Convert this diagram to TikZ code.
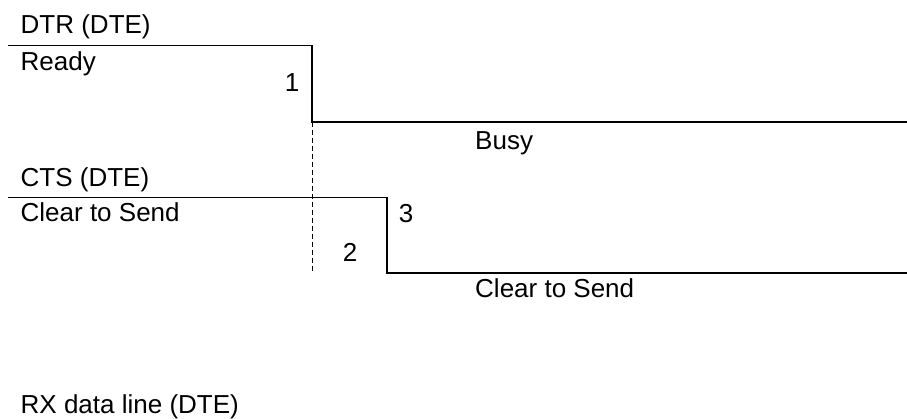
\documentclass[tikz,border=0pt]{standalone}
\usepackage{fontspec}
\setmainfont{Liberation Sans}
\begin{document}
\begin{tikzpicture}[x=1pt,y=-1pt,
  lbl/.style={anchor=base west,inner sep=0pt,font=\fontsize{26}{31}\selectfont},
  num/.style={anchor=base,inner sep=0pt,font=\fontsize{26}{31}\selectfont},
  sig/.style={line width=1.5pt,line join=miter},
  guide/.style={line width=1pt,dash pattern=on 5pt off 3pt}]
\useasboundingbox (0,0) rectangle (907,419);
% DTR
\node[lbl] (dtr) at (20.5,34) {DTR (DTE)};
\node[lbl] (ready) at (20.5,71) {Ready};
\node[num] (n1) at (292,92) {1};
\node[lbl] (busy) at (475,150) {Busy};
\coordinate (d0) at (8,45.5);
\coordinate (d1) at (312,45.5);
\coordinate (d2) at (312,122);
\coordinate (d3) at (907,122);
\draw[sig] (d0) -- (d1) -- (d2) -- (d3);
% guide
\coordinate (g1) at (312,273);
\draw[guide] (d2) -- (g1);
% CTS
\node[lbl] (cts) at (20.5,187) {CTS (DTE)};
\node[lbl] (cts1) at (20.5,222) {Clear to Send};
\node[num] (n3) at (406,223) {3};
\node[num] (n2) at (350,262) {2};
\node[lbl] (cts2) at (475,298) {Clear to Send};
\coordinate (c0) at (8,197.5);
\coordinate (c1) at (387,197.5);
\coordinate (c2) at (387,273);
\coordinate (c3) at (907,273);
\draw[sig] (c0) -- (c1) -- (c2) -- (c3);
% RX
\node[lbl] (rx) at (20.5,413) {RX data line (DTE)};
\end{tikzpicture}
\end{document}
